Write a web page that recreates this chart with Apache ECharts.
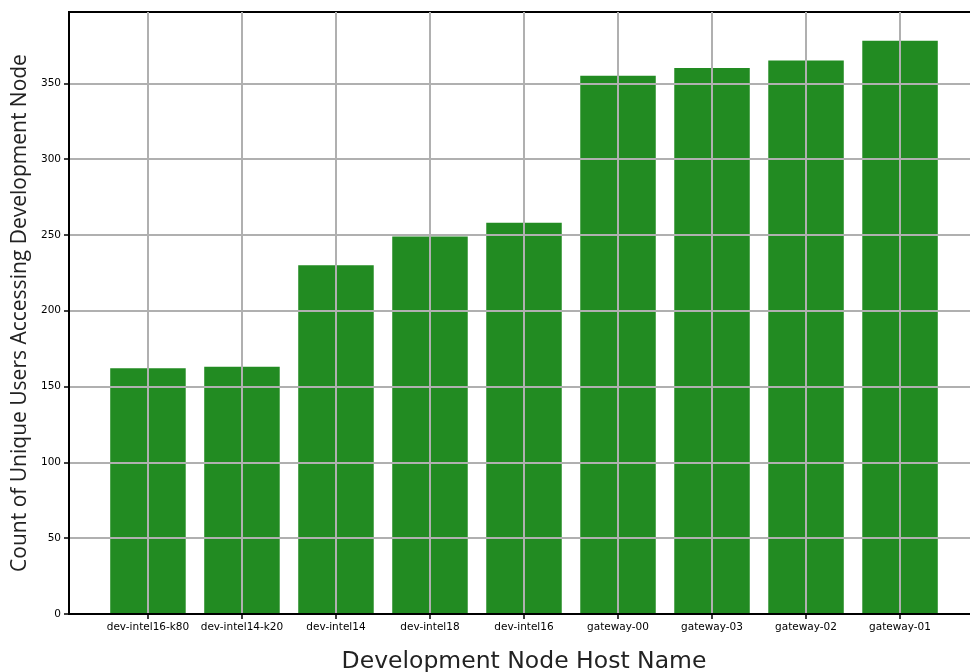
<!DOCTYPE html>
<html>
<head>
<meta charset="utf-8">
<script src="https://cdn.jsdelivr.net/npm/echarts@6/dist/echarts.min.js"></script>
<style>html,body{margin:0;padding:0;background:#fff}#c{width:970px;height:672px}</style>
</head>
<body>
<div id="c"></div>
<script>
const categories = ['dev-intel16-k80','dev-intel14-k20','dev-intel14','dev-intel18','dev-intel16','gateway-00','gateway-03','gateway-02','gateway-01'];
const values = [162, 163, 230, 249, 258, 355, 360, 365, 378];
const yTicks = [0, 50, 100, 150, 200, 250, 300, 350];

const chart = echarts.init(document.getElementById('c'));
const positions = categories.map((c, i) => i);
chart.setOption({
  animation: false,
  grid: {left: 69, top: 12, width: 910, height: 602, containLabel: false, outerBoundsMode: 'none',
    show: true, borderColor: '#000', borderWidth: 2, backgroundColor: 'transparent'},
  xAxis: {
    type: 'value', min: -0.84, max: 8.84, z: 3,
    name: 'Development Node Host Name', nameLocation: 'middle', nameGap: 36,
    nameTextStyle: {fontFamily: 'DejaVu Sans', fontSize: 23.5, color: '#222'},
    axisLine: {show: true, onZero: false, lineStyle: {color: '#000', width: 2}},
    axisTick: {show: true, length: 5, customValues: positions, lineStyle: {color: '#000', width: 1.5}},
    axisLabel: {customValues: positions, margin: 8, fontFamily: 'DejaVu Sans', fontSize: 10.5, color: '#000',
      formatter: v => categories[Math.round(v)]},
    splitLine: {show: true, lineStyle: {color: '#b0b0b0', width: 2}}
  },
  yAxis: {
    type: 'value', min: 0, max: 397, z: 3,
    name: 'Count of Unique Users Accessing Development Node', nameLocation: 'middle', nameGap: 37,
    nameTextStyle: {fontFamily: 'Open Sans', fontSize: 21, color: '#222'},
    axisLine: {show: true, onZero: false, lineStyle: {color: '#000', width: 2}},
    axisTick: {show: true, length: 5, customValues: yTicks, lineStyle: {color: '#000', width: 1.5}},
    axisLabel: {customValues: yTicks, margin: 8, fontFamily: 'DejaVu Sans', fontSize: 10.5, color: '#000'},
    splitLine: {show: true, lineStyle: {color: '#b0b0b0', width: 2}}
  },
  series: [{
    type: 'bar',
    data: values.map((v, i) => [positions[i], v]),
    barWidth: 75.5,
    itemStyle: {color: '#228B22'}
  }]
});
</script>
</body>
</html>
